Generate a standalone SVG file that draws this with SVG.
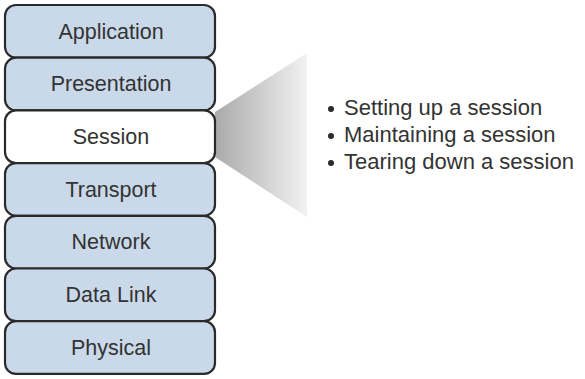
<svg xmlns="http://www.w3.org/2000/svg" width="585" height="379" viewBox="0 0 585 379">
  <defs>
    <linearGradient id="fanShade" x1="0" y1="0" x2="1" y2="0">
      <stop offset="0" stop-color="#aaaaaa"/>
      <stop offset="1" stop-color="#f2f2f2"/>
    </linearGradient>
  </defs>
  <style>
    .layer rect { fill: #c9d9e9; stroke: #2a2a2a; stroke-width: 2.2; }
    .layer.active rect { fill: #ffffff; }
    .layer text { font-family: "Liberation Sans", Arial, sans-serif; font-size: 21.5px; fill: #333333; text-anchor: middle; }
    .bullets text { font-family: "Liberation Sans", Arial, sans-serif; font-size: 22px; fill: #333333; }
    .bullets circle { fill: #2a2a2a; }
  </style>

  <rect width="585" height="379" fill="#ffffff"/>

  <!-- callout fan from the Session layer -->
  <g id="callout">
    <polygon points="215,112 307,53 307,217 215,157" fill="url(#fanShade)"/>
  </g>

  <g id="application" class="layer">
    <rect x="5" y="5" width="210" height="52.7" rx="11"/>
    <text x="111" y="38.5">Application</text>
  </g>
  <g id="presentation" class="layer">
    <rect x="5" y="57.7" width="210" height="52.7" rx="11"/>
    <text x="111" y="91.2">Presentation</text>
  </g>
  <g id="session" class="layer active">
    <rect x="5" y="110.4" width="210" height="52.7" rx="11"/>
    <text x="111" y="143.9">Session</text>
  </g>
  <g id="transport" class="layer">
    <rect x="5" y="163.1" width="210" height="52.7" rx="11"/>
    <text x="111" y="196.6">Transport</text>
  </g>
  <g id="network" class="layer">
    <rect x="5" y="215.8" width="210" height="52.7" rx="11"/>
    <text x="111" y="249.3">Network</text>
  </g>
  <g id="datalink" class="layer">
    <rect x="5" y="268.5" width="210" height="52.7" rx="11"/>
    <text x="111" y="302">Data Link</text>
  </g>
  <g id="physical" class="layer">
    <rect x="5" y="321.2" width="210" height="52.7" rx="11"/>
    <text x="111" y="354.7">Physical</text>
  </g>

  <g id="session-tasks" class="bullets">
    <circle cx="331" cy="109" r="3"/>
    <text x="344" y="114.5">Setting up a session</text>
    <circle cx="331" cy="136" r="3"/>
    <text x="344" y="141.5">Maintaining a session</text>
    <circle cx="331" cy="163" r="3"/>
    <text x="344" y="168.5">Tearing down a session</text>
  </g>
</svg>
